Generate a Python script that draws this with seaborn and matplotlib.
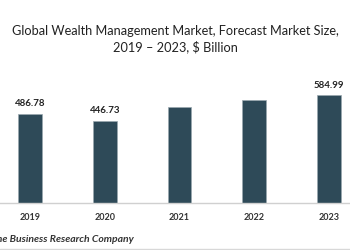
import numpy as np
import pandas as pd
import matplotlib
matplotlib.use("Agg")
import matplotlib.pyplot as plt
import seaborn as sns

# chart data
years = ["2019", "2020", "2021", "2022", "2023"]
market_size = [486.78, 446.73, 522.0, 559.0, 584.99]
shown_labels = ["486.78", "446.73", "", "", "584.99"]

title = "Global Wealth Management Market, Forecast Market Size,\n2019 \u2013 2023, $ Billion"
source = "The Business Research Company"

bar_color = "#2e4a58"

sns.set_theme(style="white")
plt.rcParams['font.family'] = ['Lato', 'DejaVu Sans']

df = pd.DataFrame({"year": years, "size": market_size})

fig = plt.figure(figsize=(3.5, 2.5), dpi=100)
ax = fig.add_axes([0, 0.188, 1, 0.572])

sns.barplot(data=df, x="year", y="size", color=bar_color, width=0.32,
            edgecolor="#9aa7ae", linewidth=0.5, saturation=1, ax=ax)

ax.set_xlim(-0.40, 4.28)
ax.set_ylim(0, 778)

# value labels, only some years are annotated
for i, (v, lab) in enumerate(zip(market_size, shown_labels)):
    if lab:
        ax.text(i, v + 30, lab, ha="center", va="bottom", fontsize=7,
                fontweight="bold", color="#222222")

ax.set_xlabel("")
ax.set_ylabel("")
ax.set_yticks([])
ax.tick_params(axis="x", length=0, pad=7, labelsize=6.5)
for t in ax.get_xticklabels():
    t.set_fontweight("bold")
    t.set_color("#333333")

for s in ["top", "left", "right"]:
    ax.spines[s].set_visible(False)
ax.spines["bottom"].set_color("#d0d0d0")
ax.spines["bottom"].set_linewidth(1.0)

fig.text(0.5, 0.845, title, ha="center", va="center", fontsize=9.2,
         color="#222222", linespacing=1.3)

fig.text(134 / 350, 0.044, source, ha="right", va="center", fontsize=7.5,
         fontweight="bold", fontstyle="italic", color="#333333")

fig.add_artist(plt.Line2D([0, 1], [0.006, 0.006], color="#d8d8d8", lw=1))

fig.savefig("out.png", dpi=100)
